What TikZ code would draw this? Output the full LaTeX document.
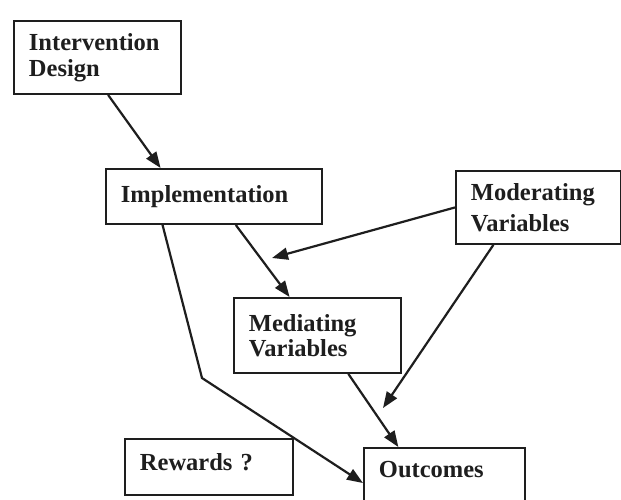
\documentclass[tikz,border=0pt]{standalone}
\usepackage{fontspec}
\setmainfont{Liberation Serif}
\usetikzlibrary{arrows.meta,calc}
\definecolor{ink}{HTML}{1E1E1E}
\begin{document}
\begin{tikzpicture}[x=1pt,y=-1pt,
  box/.style={draw=ink, text=ink, line width=1.9pt, rectangle, anchor=north west,
    inner xsep=15pt, inner ysep=0pt, align=left,
    font=\fontsize{24.5}{26}\selectfont\bfseries},
  arr/.style={draw=ink, line width=2.2pt, -{Triangle[length=16pt,width=12pt]}}]
\useasboundingbox (0,0) rectangle (621,500);
\fill[white] (0,0) rectangle (621,500);
\clip (0,0) rectangle (621,500);
% boxes
\node[box, text width=137pt, minimum height=73pt] (design) at (13,20)
  {Intervention\\Design};
\node[box, text width=186pt, minimum height=55pt] (impl) at (105,168)
  {Implementation};
\node[box, text width=135pt, minimum height=73pt,
  font=\fontsize{24.5}{31}\selectfont\bfseries] (moder) at (455,170)
  {Moderating\\Variables};
\node[box, text width=137pt, minimum height=75pt,
  font=\fontsize{24.5}{25}\selectfont\bfseries] (medi) at (233,297)
  {Mediating\\Variables};
\node[box, text width=138pt, minimum height=56pt, text height=17pt, text depth=9pt] (rew) at (124,438)
  {Rewards ?};
\node[box, text width=131pt, minimum height=80pt, text height=17pt, text depth=37pt] (out) at (363,447)
  {Outcomes};
% free ends
\coordinate (mfree) at (272,258);
\coordinate (ofree) at (383,408);
\coordinate (bend) at (202,378);
% connectors
\draw[arr] ($(design.south west)!0.563!(design.south east)$) -- ($(impl.north west)!0.255!(impl.north east)$);
\draw[arr] ($(impl.south west)!0.60!(impl.south east)$) -- ($(medi.north west)!0.335!(medi.north east)$);
\draw[arr] (moder.west) -- (mfree);
\draw[arr] ($(moder.south west)!0.23!(moder.south east)$) -- (ofree);
\draw[arr] ($(medi.south west)!0.683!(medi.south east)$) -- ($(out.north west)!0.217!(out.north east)$);
\draw[arr] ($(impl.south west)!0.264!(impl.south east)$) -- (bend) -- ($(out.north west)!0.44!(out.south west)$);
\end{tikzpicture}
\end{document}
